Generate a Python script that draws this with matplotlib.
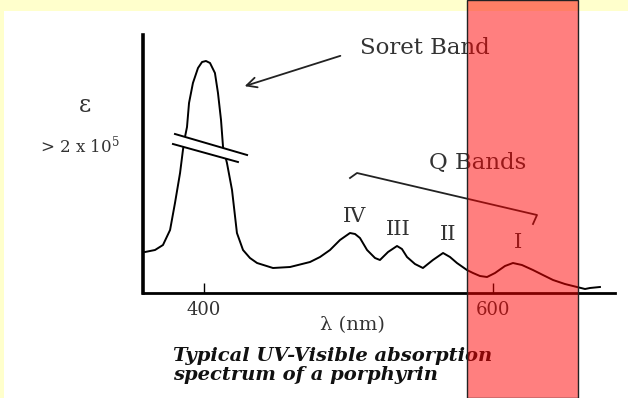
import matplotlib
matplotlib.use("Agg")
from matplotlib import pyplot as plt
from matplotlib.patches import Rectangle, Polygon

# spectrum (wavelength in nm, absorbance in arbitrary units)
wavelength = [359.6, 366.5, 372.0, 376.9, 380.3, 383.8, 385.8, 387.2, 388.6, 390.0,
              392.7, 396.2, 399.0, 401.7, 404.5, 407.9, 410.0, 412.1, 413.5, 416.2,
              419.7, 423.1, 427.3, 432.1, 437.0, 448.0, 459.8, 473.6, 480.5, 487.4,
              494.3, 501.2, 504.7, 508.1, 513.0, 518.5, 521.9, 527.5, 533.7, 537.1,
              540.6, 546.1, 551.6, 558.5, 565.5, 570.3, 575.1, 582.0, 586.2, 591.0,
              595.9, 601.4, 608.3, 613.8, 620.0, 627.6, 634.5, 641.5, 649.7, 658.0,
              663.6, 667.0, 673.9]
absorbance = [41, 43, 48, 63, 90, 120, 143, 156, 166, 190,
              210, 225, 231, 232, 230, 220, 200, 173, 146, 130,
              103, 60, 43, 35, 30, 25, 26, 31, 36, 43,
              53, 60, 59, 55, 43, 35, 33, 41, 47, 44,
              36, 29, 25, 33, 40, 36, 30, 23, 20, 17,
              16, 20, 27, 30, 28, 23, 18, 13, 9, 6,
              4, 5, 6]

band_names = ["IV", "III", "II", "I"]
band_label_px = [(355, 217), (398, 230), (448, 234), (518, 243)]
xtick_values = [400, 600]

W, H = 628, 398


def fx(px):
    return px / W


def fy(py):
    return 1 - py / H


plt.rcParams["font.family"] = ["DejaVu Serif"]
plt.rcParams["mathtext.fontset"] = "dejavuserif"
fig = plt.figure(figsize=(W / 100, H / 100), dpi=100, facecolor="white")

# yellow page border
fig.patches.append(Rectangle((0, fy(11)), 1, 11 / H, transform=fig.transFigure,
                             facecolor="#ffffcc", edgecolor="none", zorder=-5))
fig.patches.append(Rectangle((0, 0), 4 / W, 1, transform=fig.transFigure,
                             facecolor="#ffffcc", edgecolor="none", zorder=-5))

ax = fig.add_axes([fx(143), fy(293), fx(615) - fx(143), fy(35) - fy(293)])
ax.patch.set_visible(False)
ax.plot(wavelength, absorbance, color="black", lw=1.4, zorder=2)
ax.set_xlim(358.2, 684.3)
ax.set_ylim(0, 258)
ax.spines["top"].set_visible(False)
ax.spines["right"].set_visible(False)
ax.spines["left"].set_linewidth(2.6)
ax.spines["bottom"].set_linewidth(2.0)
ax.set_yticks([])
ax.set_xticks(xtick_values)
ax.tick_params(axis="x", direction="in", length=7.5, width=1.0, pad=6,
               labelsize=13, labelcolor="#333333")
ax.set_xlabel("λ (nm)", fontsize=14, color="#333333")
ax.xaxis.set_label_coords(0.443, -0.09)

# axis break on the Soret peak
ax.add_patch(Polygon([(380.3, 159), (430.1, 138), (423.8, 131), (378.9, 149)],
                     closed=True, facecolor="white", edgecolor="none", zorder=3))
ax.plot([380.3, 430.1], [159, 138], color="black", lw=1.4, zorder=4)
ax.plot([378.9, 423.8], [149, 131], color="black", lw=1.4, zorder=4)

# y axis text
fig.text(fx(85), fy(106), "ε", fontsize=17, color="#333333", ha="center", va="center")
fig.text(fx(80), fy(145), r"> 2 x 10$^5$", fontsize=12, color="#333333",
         ha="center", va="center")

# Soret band label and arrow
fig.text(fx(425), fy(48), "Soret Band", fontsize=16.5, color="#333333",
         ha="center", va="center")
ax.annotate("", xy=(fx(242), fy(87)), xytext=(fx(343), fy(55)),
            xycoords="figure fraction", textcoords="figure fraction",
            arrowprops=dict(arrowstyle="->", color="#222222", lw=1.3,
                            mutation_scale=18))

# Q bands label and bracket
fig.text(fx(478), fy(163), "Q Bands", fontsize=16.5, color="#333333",
         ha="center", va="center")
fig.add_artist(plt.Line2D([fx(350), fx(357), fx(537), fx(533)],
                          [fy(178), fy(173), fy(215), fy(224)],
                          transform=fig.transFigure, color="#222222", lw=1.3))
for name, (px, py) in zip(band_names, band_label_px):
    fig.text(fx(px), fy(py), name, fontsize=15, color="#333333",
             ha="center", va="center")

# caption
fig.text(fx(173), fy(356), "Typical UV-Visible absorption", fontsize=14,
         fontweight="bold", fontstyle="italic", color="#111111", va="center")
fig.text(fx(173), fy(375), "spectrum of a porphyrin", fontsize=14,
         fontweight="bold", fontstyle="italic", color="#111111", va="center")

# red highlight band over the whole page
fig.patches.append(Rectangle((fx(467), 0), (578 - 467) / W, 1, transform=fig.transFigure,
                             facecolor=(1, 0, 0, 0.5), edgecolor="#222222", lw=1.0,
                             zorder=10))

fig.savefig("out.png", dpi=100, facecolor="white")
